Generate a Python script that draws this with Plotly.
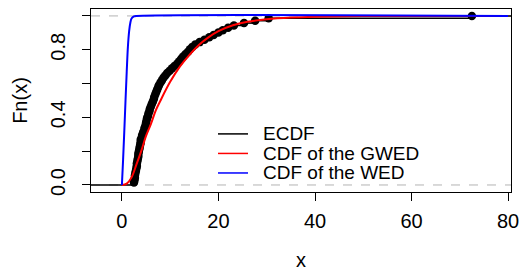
import numpy as np
import plotly.graph_objects as go

# ---- data ----
sample_x = [2.5, 2.6, 2.7, 2.7, 2.8, 2.9, 3.0, 3.1, 3.1, 3.2,
            3.3, 3.4, 3.4, 3.5, 3.6, 3.7, 3.8, 3.9, 3.9, 4.1,
            4.2, 4.4, 4.6, 4.7, 4.9, 5.0, 5.1, 5.2, 5.4, 5.5,
            5.7, 5.8, 6.0, 6.2, 6.4, 6.6, 6.7, 6.9, 7.1, 7.3,
            7.5, 7.7, 8.0, 8.3, 8.6, 9.0, 9.4, 9.9, 10.4, 10.9,
            11.5, 11.9, 12.3, 12.7, 13.2, 13.7, 14.1, 14.6, 15.2, 16.1,
            17.1, 18.1, 19.0, 20.0, 20.9, 22.0, 23.2, 25.3, 27.6, 30.4,
            72.5]

gwed_x = [0, 1, 2, 3, 4, 5, 6, 7, 8, 10, 12, 14, 16, 18, 20, 23, 26, 30, 35, 40, 50, 60, 80]
gwed_F = [0, 0.008, 0.045, 0.12, 0.2, 0.29, 0.36, 0.44, 0.5, 0.61, 0.70, 0.77, 0.83,
          0.875, 0.91, 0.945, 0.965, 0.98, 0.99, 0.995, 0.999, 1.0, 1.0]

wed_x = [0, 0.25, 0.5, 0.75, 1.0, 1.25, 1.5, 1.75, 2.0, 2.5, 3.0, 80]
wed_F = [0, 0.15, 0.32, 0.5, 0.67, 0.82, 0.91, 0.96, 0.985, 0.997, 1.0, 1.0]

x_ticks = [0, 20, 40, 60, 80]
y_ticks = [0.0, 0.2, 0.4, 0.6, 0.8, 1.0]
y_ticktext = ["0.0", "", "0.4", "", "0.8", ""]

legend_labels = ["ECDF", "CDF of the GWED", "CDF of the WED"]
colors = ["black", "#ff0000", "#0000ff"]

# ---- ECDF ----
xs = np.sort(np.array(sample_x, dtype=float))
n = len(xs)
Fn = np.arange(1, n + 1) / n
XMIN, XMAX = -6.4, 80.6

seg_x = [XMIN - 5, xs[0], None]
seg_y = [0.0, 0.0, None]
for i in range(n):
    right = xs[i + 1] if i + 1 < n else XMAX + 5
    seg_x += [xs[i], right, None]
    seg_y += [Fn[i], Fn[i], None]

FONT = dict(family="Liberation Sans, Arial, Helvetica, sans-serif", size=20, color="black")
LEG_FONT = dict(family="Liberation Sans, Arial, Helvetica, sans-serif", size=19, color="black")

fig = go.Figure()
fig.add_hline(y=0, line=dict(color="#b3b3b3", width=1, dash="dash"), layer="below")
fig.add_hline(y=1, line=dict(color="#b3b3b3", width=1, dash="dash"), layer="below")

fig.add_trace(go.Scatter(x=seg_x, y=seg_y, mode="lines",
                         line=dict(color="black", width=1.6), showlegend=False, hoverinfo="skip"))
fig.add_trace(go.Scatter(x=xs, y=Fn, mode="markers",
                         marker=dict(color="black", size=8.5), showlegend=False))
fig.add_trace(go.Scatter(x=gwed_x, y=gwed_F, mode="lines", line_shape="spline",
                         line=dict(color=colors[1], width=2), showlegend=False))
fig.add_trace(go.Scatter(x=wed_x, y=wed_F, mode="lines", line_shape="spline",
                         line=dict(color=colors[2], width=2), showlegend=False))

# legend drawn R-style (lines + labels)
L, PW = 91, 420
T, PH = 9.3, 182.7
row_y = [134, 153.5, 173]
for lab, col, yy in zip(legend_labels, colors, row_y):
    yp = 1 - (yy - T) / PH
    fig.add_shape(type="line", xref="paper", yref="paper",
                  x0=(218 - L) / PW, x1=(248 - L) / PW, y0=yp, y1=yp,
                  line=dict(color=col, width=1.5))
    fig.add_annotation(text=lab, xref="paper", yref="paper", x=(261 - L) / PW, y=yp,
                       xanchor="left", yanchor="middle", showarrow=False, font=LEG_FONT,
                       height=19, valign="middle")

axis_common = dict(showline=True, mirror=True, linecolor="black", linewidth=1,
                   ticks="outside", ticklen=8, tickcolor="black", tickwidth=1,
                   showgrid=False, zeroline=False, tickfont=FONT, automargin=False)

fig.update_layout(
    width=520, height=271,
    margin=dict(l=91, r=9, t=9, b=79),
    paper_bgcolor="white", plot_bgcolor="white",
    showlegend=False,
    xaxis=dict(range=[XMIN, XMAX], tickvals=x_ticks, ticklabelstandoff=3,
               title=dict(text="x", font=FONT, standoff=22), **axis_common),
    yaxis=dict(range=[-0.0415, 1.041], tickvals=y_ticks, ticktext=y_ticktext,
               tickangle=-90, ticklabelstandoff=9,
               title=dict(text="Fn(x)", font=FONT, standoff=14),
               **axis_common),
)

fig.write_html("out.html", config={"displayModeBar": False},
               post_script="document.body.style.margin='0';document.body.style.padding='0';")
